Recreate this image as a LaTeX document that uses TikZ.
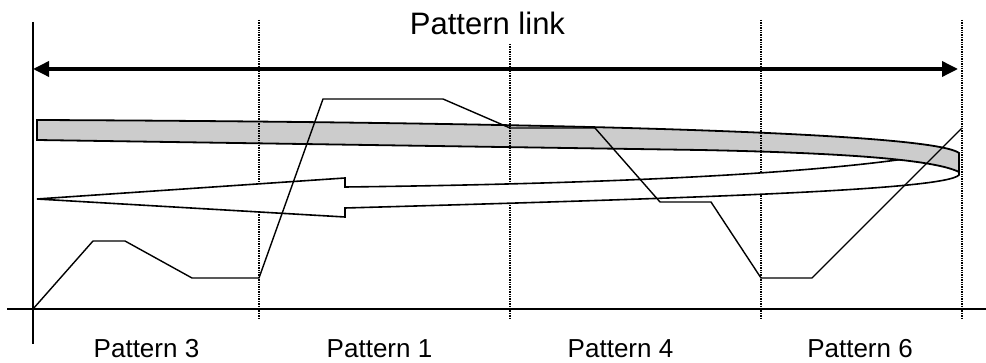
\documentclass[tikz,border=0pt]{standalone}
\usepackage{fontspec}
\setmainfont{Liberation Sans}
\usetikzlibrary{arrows.meta}
\begin{document}
\begin{tikzpicture}[x=1pt,y=-1pt,
  axis/.style={line width=1.3pt},
  guide/.style={line width=2.2pt, dash pattern=on 1.4pt off 1pt},
  traj/.style={line width=1.4pt, line join=miter},
  band/.style={draw, line width=1.8pt, fill=black!20},
  retarrow/.style={draw, line width=1.6pt, fill=white},
  lbl/.style={font=\fontsize{26}{26}\selectfont, anchor=base, inner sep=0pt},
  ttl/.style={font=\fontsize{31}{31}\selectfont, anchor=base, inner sep=0pt},
  linkarrow/.style={line width=3.5pt, {Triangle[length=16pt,width=15pt]}-{Triangle[length=16pt,width=15pt]}}
]
\useasboundingbox (0,0) rectangle (986,363);
\newcommand{\bandoutline}{(37,120) .. controls (500,122) and (930,131) .. (959,153) -- (959,172) .. controls (935,160) and (850,153) .. (700,150) -- (37,140) -- cycle}
% axes
\draw[axis] (33,22) -- (33,344);
\draw[axis] (7,309) -- (986,309);
% dotted guides
\foreach \gx/\gy in {259/20,510/44,761/20,962/20} \draw[guide] (\gx,\gy) -- (\gx,319);
% returning white arrow
\draw[retarrow] (37,199) -- (345,178) -- (345,187) .. controls (600,184) and (820,174) .. (930,155) -- (959,160) -- (959,175) .. controls (945,190) and (700,198) .. (345,208) -- (345,217) -- cycle;
% grey band
\draw[band] \bandoutline;
\begin{scope}
  \clip \bandoutline;
  \foreach \gx/\gy in {259/20,510/44,761/20,962/20} \draw[guide] (\gx,\gy) -- (\gx,319);
\end{scope}
% trajectory
\draw[traj] (33,309) -- (93,241) -- (125,241) -- (192,278) -- (259,278) -- (323,99) -- (443,99) -- (510,128) -- (595,128) -- (660,202) -- (711,202) -- (761,278) -- (812,278) -- (962,128);
% pattern link arrow
\coordinate (L) at (33,69);
\coordinate (R) at (958,69);
\draw[linkarrow] (L) -- (R);
% texts
\node[ttl] (title) at (487.5,35) {Pattern link};
\node[lbl] (p3) at (146.5,358) {Pattern 3};
\node[lbl] (p1) at (379.5,358) {Pattern 1};
\node[lbl] (p4) at (620.5,358) {Pattern 4};
\node[lbl] (p6) at (860,358) {Pattern 6};
\end{tikzpicture}
\end{document}
